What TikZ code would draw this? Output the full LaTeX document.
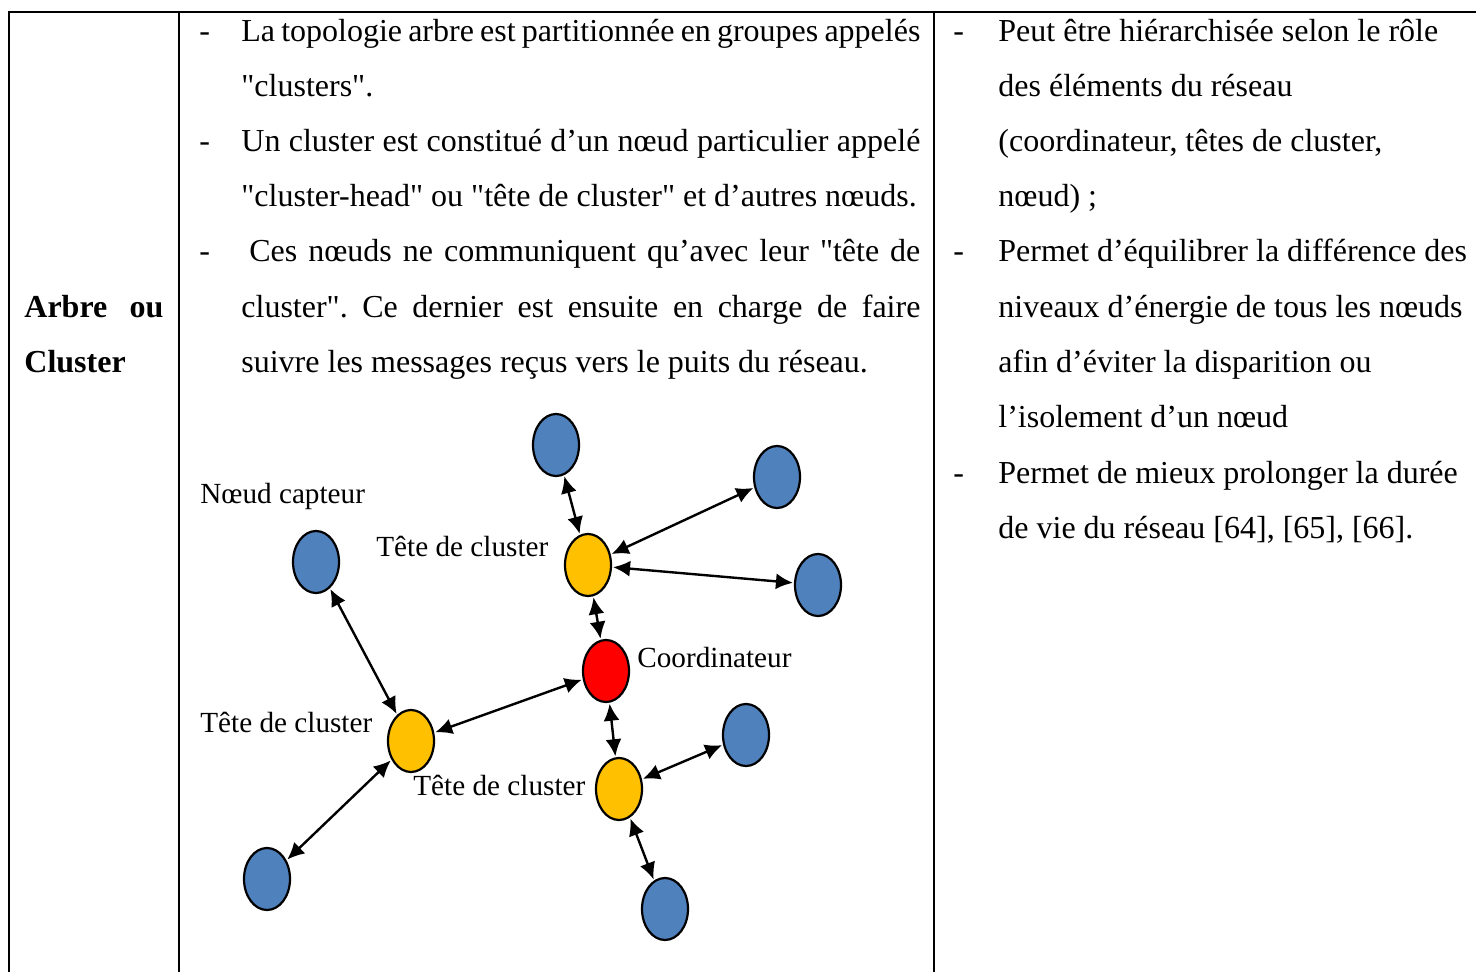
\documentclass[tikz,border=0pt]{standalone}
\usepackage{fontspec}
\setmainfont{Liberation Serif}[Ligatures=TeXOff]
\usetikzlibrary{shapes.geometric,arrows.meta}
\frenchspacing

\definecolor{bleu}{HTML}{4F81BD}
\definecolor{jaune}{HTML}{FFC000}
\definecolor{rouge}{HTML}{FF0000}

\tikzset{
  capteur/.style={ellipse,draw,line width=1.1pt,fill=bleu,minimum width=23pt,minimum height=31pt,inner sep=0pt},
  tete/.style={capteur,fill=jaune},
  coordo/.style={capteur,fill=rouge},
  lien/.style={>={Latex[length=8.5pt,width=8pt]},<->,line width=1.2pt,shorten >=0.5pt,shorten <=0.5pt},
  ligne/.style={anchor=base west,inner sep=0pt,font=\fontsize{16}{19}\selectfont},
  etiq/.style={anchor=base west,inner sep=0pt,font=\fontsize{14.6}{17}\selectfont},
  bord/.style={line width=1.1pt}
}

\begin{document}
\begin{tikzpicture}[x=0.5pt,y=-0.5pt]
\useasboundingbox (0,0) rectangle (1476,972);

\draw[bord] (8,12) -- (1476,12);
\draw[bord] (9,12) -- (9,972);
\draw[bord] (179,12) -- (179,972);
\draw[bord] (934,12) -- (934,972);

\node[ligne] (titre1) at (24,318) {\makebox[69.5pt][s]{\bfseries Arbre ou}};
\node[ligne] (titre2) at (24,373) {\bfseries Cluster};

\node[ligne] (d1) at (199,42) {-};
\node[ligne] (d2) at (199,152) {-};
\node[ligne] (d3) at (199,262) {-};
\node[ligne] (l1) at (241,42) {\makebox[339.5pt][s]{La topologie arbre est partitionnée en groupes appelés}};
\node[ligne] (l2) at (241,97) {"clusters".};
\node[ligne] (l3) at (241,152) {\makebox[339.5pt][s]{Un cluster est constitué d’un nœud particulier appelé}};
\node[ligne] (l4) at (241,207) {"cluster-head" ou "tête de cluster" et d’autres nœuds.};
\node[ligne] (l5) at (249,262) {\makebox[335.5pt][s]{Ces nœuds ne communiquent qu’avec leur "tête de}};
\node[ligne] (l6) at (241,318) {\makebox[339.5pt][s]{cluster". Ce dernier est ensuite en charge de faire}};
\node[ligne] (l7) at (241,373) {suivre les messages reçus vers le puits du réseau.};

\node[ligne] (e1) at (953,42) {-};
\node[ligne] (e2) at (953,262) {-};
\node[ligne] (e3) at (953,483) {-};
\node[ligne] (r1) at (998,42) {Peut être hiérarchisée selon le rôle};
\node[ligne] (r2) at (998,97) {des éléments du réseau};
\node[ligne] (r3) at (998,152) {(coordinateur, têtes de cluster,};
\node[ligne] (r4) at (998,207) {nœud) ;};
\node[ligne] (r5) at (998,262) {Permet d’équilibrer la différence des};
\node[ligne] (r6) at (998,318) {niveaux d’énergie de tous les nœuds};
\node[ligne] (r7) at (998,373) {afin d’éviter la disparition ou};
\node[ligne] (r8) at (998,428) {l’isolement d’un nœud};
\node[ligne] (r9) at (998,483) {Permet de mieux prolonger la durée};
\node[ligne] (r10) at (998,538) {de vie du réseau [64], [65], [66].};

\node[capteur] (b1) at (556,445) {};
\node[capteur] (b2) at (777,477) {};
\node[capteur] (b3) at (818,585) {};
\node[capteur] (b4) at (316,562) {};
\node[capteur] (b5) at (267,879) {};
\node[capteur] (b6) at (746,735) {};
\node[capteur] (b7) at (665,909) {};
\node[tete] (t1) at (588,565) {};
\node[tete] (t2) at (411,741) {};
\node[tete] (t3) at (619,789) {};
\node[coordo] (c) at (606,671) {};

\node[etiq] (n1) at (200,503) {Nœud capteur};
\node[etiq] (n2) at (376,556) {Tête de cluster};
\node[etiq] (n3) at (637,667) {Coordinateur};
\node[etiq] (n4) at (200,732) {Tête de cluster};
\node[etiq] (n5) at (413,795) {Tête de cluster};

\draw[lien] (b1) -- (t1);
\draw[lien] (t1) -- (b2);
\draw[lien] (t1) -- (b3);
\draw[lien] (t1) -- (c);
\draw[lien] (c) -- (t2);
\draw[lien] (t2) -- (b4);
\draw[lien] (t2) -- (b5);
\draw[lien] (c) -- (t3);
\draw[lien] (t3) -- (b6);
\draw[lien] (t3) -- (b7);

\end{tikzpicture}
\end{document}
